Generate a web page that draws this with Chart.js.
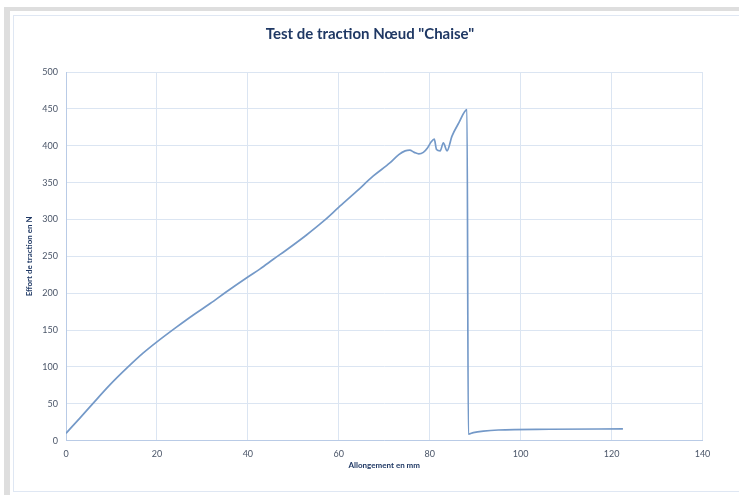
<!DOCTYPE html>
<html>
<head>
<meta charset="utf-8">
<script src="https://cdn.jsdelivr.net/npm/chart.js@4.4.1/dist/chart.umd.min.js"></script>
<style>
    body { margin: 0; background: #fff; }
    #page { position: relative; width: 739px; height: 495px; overflow: hidden; background: #fff; }
    #band-top { position: absolute; left: 4px; top: 7px; width: 735px; height: 4px; background: #dedede; }
    #band-left { position: absolute; left: 4px; top: 7px; width: 6px; height: 488px; background: #dedede; }
    #frame { position: absolute; left: 13px; top: 15px; width: 740px; height: 475px; border: 1px solid #dfe7f3; }
    #chart { position: absolute; left: 0; top: 0; }
</style>
</head>
<body>
<div id="page">
    <div id="band-top"></div>
    <div id="band-left"></div>
    <div id="frame"></div>
    <canvas id="chart" width="739" height="495"></canvas>
</div>
<script>
// Allongement (mm) et effort (N)
const allongement = [0, 3.1, 6, 9.7, 13.3, 17, 20, 24.3, 28, 31.7, 35.3, 40, 42.7, 45.6, 49, 52.9, 56.5, 59.9, 63.9, 67.6, 71.3, 73.2, 74.6, 75.6, 76.6, 77.6, 78.6, 79.5, 80.3, 81, 81.5, 82.3, 83, 83.8, 84.9, 86.4, 88.2, 88.5, 89.6, 91.8, 95.1, 106.4, 122.5];
const effort = [10, 31, 51, 76, 98, 119, 134, 154, 170.5, 186, 202, 222, 233, 246, 261, 279, 297, 316, 338, 359, 377, 388, 393, 394, 391, 389, 391, 397, 405, 409, 395, 393, 404, 393, 413, 431, 449, 9, 11, 13, 14.5, 15.5, 16];
const xTicks = [0, 20, 40, 60, 80, 100, 120, 140];
const yTicks = [0, 50, 100, 150, 200, 250, 300, 350, 400, 450, 500];

const points = allongement.map((x, i) => ({ x: x, y: effort[i] }));

const ctx = document.getElementById('chart').getContext('2d');
new Chart(ctx, {
    type: 'scatter',
    data: {
        datasets: [{
            label: 'Effort',
            data: points,
            showLine: true,
            borderColor: '#7499c8',
            borderWidth: 1.7,
            pointRadius: 0,
            cubicInterpolationMode: 'monotone'
        }]
    },
    options: {
        responsive: false,
        animation: false,
        // left padding widened so the title centres like the original
        layout: { padding: { left: 37.5, right: 36.5, top: 0, bottom: 20.3 } },
        plugins: {
            legend: { display: false },
            tooltip: { enabled: false },
            title: {
                display: true,
                text: 'Test de traction Nœud "Chaise"',
                color: '#1f3864',
                font: { family: 'Lato', size: 15, weight: 'bold' },
                padding: { top: 25, bottom: 29 }
            }
        },
        scales: {
            x: {
                type: 'linear',
                min: 0,
                max: 140,
                afterBuildTicks: function (scale) {
                    scale.ticks = xTicks.map(v => ({ value: v }));
                },
                afterFit: function (scale) { scale.height = 34; },
                grid: { color: '#dbe5f2', drawTicks: false },
                border: { color: '#b9cbe6' },
                ticks: {
                    padding: 8,
                    color: '#4a5568',
                    font: { family: 'Lato', size: 9 }
                },
                title: {
                    display: true,
                    text: 'Allongement en mm',
                    color: '#1f3864',
                    font: { family: 'Lato', size: 8, weight: 'bold' },
                    padding: { top: 0, bottom: 4 }
                }
            },
            y: {
                min: 0,
                max: 500,
                afterBuildTicks: function (scale) {
                    scale.ticks = yTicks.map(v => ({ value: v }));
                },
                afterFit: function (scale) { scale.width = 28.5; },
                grid: { color: '#dbe5f2', drawTicks: false },
                border: { color: '#b9cbe6' },
                ticks: {
                    padding: 8,
                    color: '#4a5568',
                    font: { family: 'Lato', size: 9 }
                },
                title: {
                    display: true,
                    text: 'Effort de traction en N',
                    color: '#1f3864',
                    font: { family: 'Lato', size: 8, weight: 'bold' },
                    padding: { top: -13, bottom: 0 }
                }
            }
        }
    }
});
</script>
</body>
</html>
